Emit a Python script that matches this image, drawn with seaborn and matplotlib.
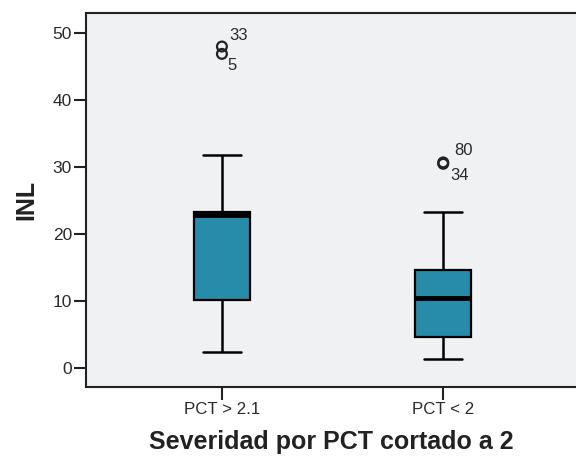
import numpy as np
import pandas as pd
import matplotlib
matplotlib.use("Agg")
import matplotlib.pyplot as plt
import seaborn as sns

# --- data (five-number summaries) ---
categories = ["PCT > 2.1", "PCT < 2"]
whisker_low = [2.4, 1.3]
q1 = [10.1, 4.6]
median = [22.8, 10.4]
q3 = [23.3, 14.6]
whisker_high = [31.8, 23.3]
outlier_group = ["PCT > 2.1", "PCT > 2.1", "PCT < 2", "PCT < 2"]
outlier_value = [48.0, 46.9, 30.7, 30.5]
outlier_label = ["33", "5", "80", "34"]

sns.set_style("white")
plt.rcParams["font.family"] = ["Liberation Sans", "DejaVu Sans"]

rows = []
for c, a, b, m, d, e in zip(categories, whisker_low, q1, median, q3, whisker_high):
    for v in (a, b, m, d, e):
        rows.append({"grupo": c, "INL": v})
df = pd.DataFrame(rows)
odf = pd.DataFrame({"grupo": outlier_group, "INL": outlier_value, "lab": outlier_label})

fig = plt.figure(figsize=(5.76, 4.65), dpi=100)
ax = fig.add_axes([0.149, 0.168, 0.851, 0.804])
ax.set_facecolor("#f0f1f2")

sns.boxplot(data=df, x="grupo", y="INL", order=categories, ax=ax,
            color="#268caa", saturation=1, width=0.255, whis=np.inf,
            showfliers=False, linewidth=1.6, linecolor="black",
            medianprops={"linewidth": 3.5, "color": "black"},
            capprops={"linewidth": 1.8}, whiskerprops={"linewidth": 1.8},
            capwidths=0.17)

sns.scatterplot(data=odf, x="grupo", y="INL", ax=ax, marker="o", s=50,
                facecolor="none", edgecolor="#222222", linewidth=1.6, legend=False)

xpos = {c: i for i, c in enumerate(categories)}
offsets = {"33": (17, 11), "5": (10, -12), "80": (20, 12), "34": (16, -12)}
for g, v, lab in zip(outlier_group, outlier_value, outlier_label):
    dx, dy = offsets[lab]
    ax.annotate(lab, (xpos[g], v), xytext=(dx, dy), textcoords="offset pixels",
                ha="center", va="center", fontsize=12, color="#2a2a2a")

ax.set_xlim(-0.615, 1.6)
ax.set_ylim(-2.8, 53)
ax.set_yticks([0, 10, 20, 30, 40, 50])
for side in ["left", "top", "bottom"]:
    ax.spines[side].set_color("#222222")
    ax.spines[side].set_linewidth(1.5)
ax.spines["right"].set_visible(False)
ax.tick_params(axis="both", which="both", direction="out", length=9, width=1.5,
               color="#222222", labelcolor="#2a2a2a", labelsize=12.5, pad=1,
               left=True, bottom=True)
ax.tick_params(axis="x", labelsize=12.2, pad=2)
ax.set_xlabel("Severidad por PCT cortado a 2", fontsize=18, fontweight="bold",
              color="#222222", labelpad=9)
ax.set_ylabel("INL", fontsize=18, fontweight="bold", color="#222222", labelpad=10)

fig.savefig("out.png", dpi=100, facecolor="white")
